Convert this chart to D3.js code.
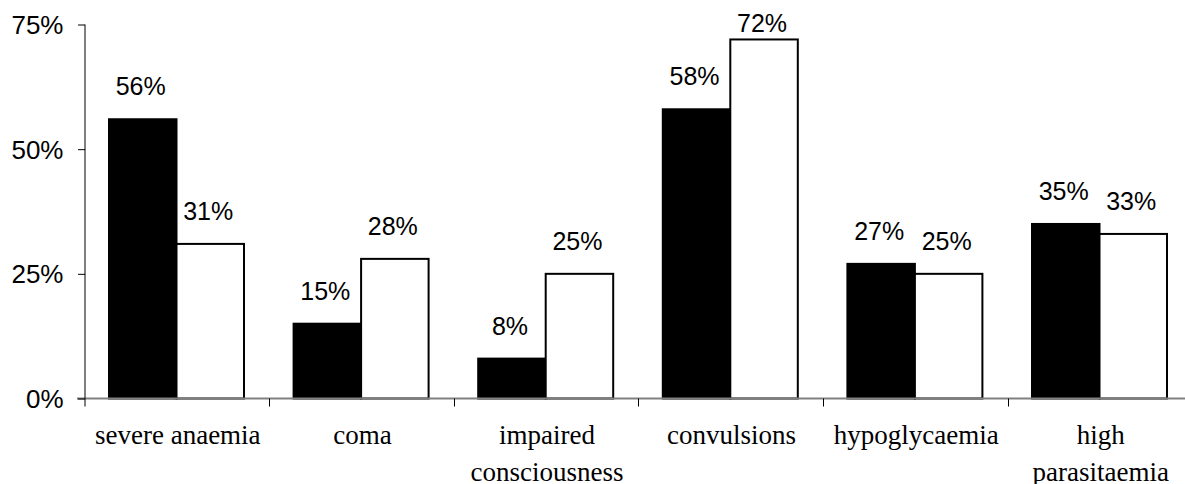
<!DOCTYPE html>
<html><head><meta charset="utf-8">
<script src="https://cdn.jsdelivr.net/npm/d3@7"></script>
<style>
html,body{margin:0;padding:0;background:#fff;}
svg{display:block;}
</style></head>
<body>
<svg id="chart" width="1185" height="484"></svg>
<script>
const categories = ["severe anaemia", "coma", "impaired consciousness", "convulsions", "hypoglycaemia", "high parasitaemia"];
const seriesBlack = [56, 15, 8, 58, 27, 35];
const seriesWhite = [31, 28, 25, 72, 25, 33];
const yTicks = [0, 25, 50, 75];

const svg = d3.select("#chart");
const x0 = 84.5, step = 184.6;
const x = d3.scaleBand().domain(categories).range([x0, x0 + step * categories.length]).paddingInner(0).paddingOuter(0);
const y = d3.scaleLinear().domain([0, 75]).range([398.5, 24.5]);
const barW = 67.5, pad = 24.5;

const series = [
  {name: "black", values: seriesBlack, fill: "#000", offset: 0},
  {name: "white", values: seriesWhite, fill: "#fff", offset: 1}
];

// bars
series.forEach(s => {
  svg.append("g").selectAll("rect").data(categories).join("rect")
    .attr("x", (d) => x(d) + pad + s.offset * barW)
    .attr("y", (d, i) => y(s.values[i]))
    .attr("width", barW)
    .attr("height", (d, i) => y(0) - y(s.values[i]))
    .attr("fill", s.fill)
    .attr("stroke", "#000")
    .attr("stroke-width", 2);
});

// data labels
series.forEach(s => {
  svg.append("g").selectAll("text").data(categories).join("text")
    .attr("x", (d) => x(d) + pad + s.offset * barW + barW / 2 - 2)
    .attr("y", (d, i) => Math.max(y(s.values[i]) - 24, 32))
    .attr("text-anchor", "middle")
    .attr("font-family", "Liberation Sans, Arial, sans-serif")
    .attr("font-size", 25)
    .attr("fill", "#000")
    .text((d, i) => s.values[i] + "%");
});

// x axis
const xAxis = svg.append("g");
xAxis.append("line").attr("x1", 77).attr("x2", 1185).attr("y1", y(0)).attr("y2", y(0))
  .attr("stroke", "#808080").attr("stroke-width", 2);
xAxis.selectAll("line.tick").data(categories.slice(1)).join("line").attr("class", "tick")
  .attr("x1", d => Math.round(x(d)) + 0.5).attr("x2", d => Math.round(x(d)) + 0.5)
  .attr("y1", y(0)).attr("y2", y(0) + 8)
  .attr("stroke", "#000").attr("stroke-width", 1);

// y axis
const yAxisG = svg.append("g").attr("transform", `translate(${x0},0)`)
  .call(d3.axisLeft(y).tickValues(yTicks).tickSize(7).tickPadding(14).tickFormat(d => d + "%"));
yAxisG.select(".domain").attr("d", `M0.5,${y(75)}V${y(0) + 8}`).attr("stroke", "#000");
yAxisG.selectAll(".tick line").attr("stroke", "#000").attr("transform", "translate(0.5,0)");
yAxisG.selectAll(".tick text").attr("font-family", "Liberation Sans, Arial, sans-serif")
  .attr("font-size", 26).attr("fill", "#000").attr("dy", "0.34em");

// category labels with wrapping
const catG = svg.append("g");
categories.forEach(c => {
  const cx = x(c) + step / 2 + 1;
  const t = catG.append("text").attr("x", cx).attr("y", 444)
    .attr("text-anchor", "middle")
    .attr("font-family", "Liberation Serif, Times New Roman, serif")
    .attr("font-size", 27)
    .attr("fill", "#000")
    .text(c);
  if (t.node().getComputedTextLength() > step - 4) {
    const words = c.split(" ");
    t.text(null);
    words.forEach((w, k) => {
      t.append("tspan").attr("x", cx).attr("y", 444 + k * 36.5).text(w);
    });
  }
});
</script>
</body></html>
